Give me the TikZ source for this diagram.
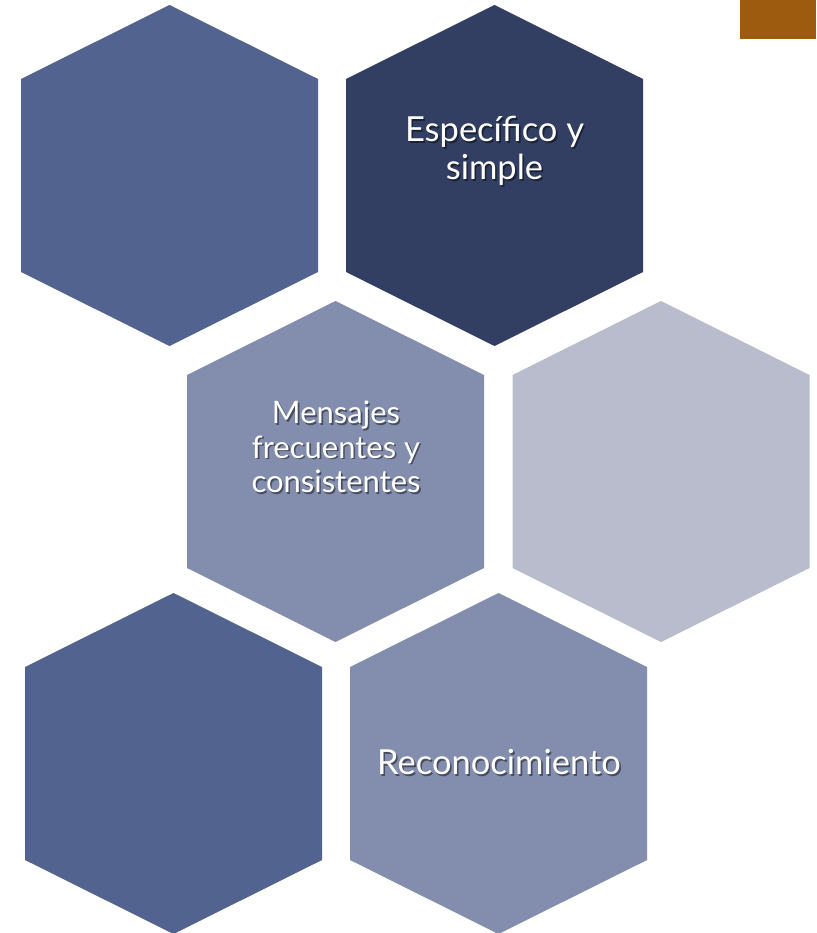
\documentclass[tikz,border=0pt]{standalone}
\usepackage{fontspec}
\setmainfont{Lato}
\definecolor{hexmid}{HTML}{52638F}
\definecolor{hexdark}{HTML}{323F63}
\definecolor{hexlight}{HTML}{838EAE}
\definecolor{hexpale}{HTML}{B8BCCC}
\definecolor{tabbrown}{HTML}{9C5B0F}
\newcommand{\hexpath}{(-148.5,-96.5) -- (0,-170.5) -- (148.5,-96.5) -- (148.5,96.5) -- (0,170.5) -- (-148.5,96.5) -- cycle}
\newcommand{\shadowtext}[5]{%
  \node[txtshadow,font=#4,shift={(1.6pt,-1.6pt)}] at (#1,#2) {#5};
  \node[txt,font=#4] (#3) at (#1,#2) {#5};}
\begin{document}
\begin{tikzpicture}[x=1pt,y=-1pt,
  txt/.style={text=white,align=center,inner sep=0pt},
  txtshadow/.style={text=black,text opacity=0.45,align=center,inner sep=0pt}]
\useasboundingbox (0,0) rectangle (816,933);
\fill[white] (0,0) rectangle (816,933);
\fill[tabbrown] (740,0) rectangle (816,39);
\fill[hexmid,shift={(169.5,175.5)}] \hexpath;
\fill[hexdark,shift={(494.5,175.5)}] \hexpath;
\fill[hexlight,shift={(335.5,471.5)}] \hexpath;
\fill[hexpale,shift={(661,471.5)}] \hexpath;
\fill[hexmid,shift={(173.5,763.5)}] \hexpath;
\fill[hexlight,shift={(498.5,763.5)}] \hexpath;
\shadowtext{494.5}{151}{t1}{\fontsize{34.5}{37.5}\selectfont}{Específico y\\simple}
\shadowtext{336}{447}{t2}{\fontsize{31}{34.5}\selectfont}{Mensajes\\frecuentes y\\consistentes}
\shadowtext{499}{762}{t3}{\fontsize{34.5}{38}\selectfont}{Reconocimiento}
\end{tikzpicture}
\end{document}
